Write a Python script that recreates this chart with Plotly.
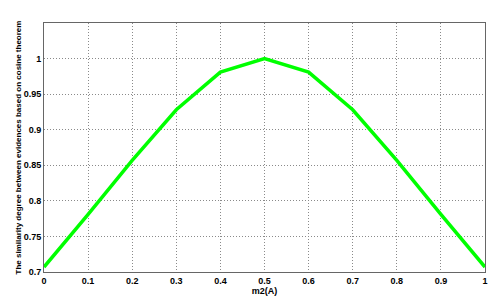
import plotly.graph_objects as go

x_vals = [0, 0.1, 0.2, 0.3, 0.4, 0.5, 0.6, 0.7, 0.8, 0.9, 1.0]
similarity = [0.707, 0.781, 0.857, 0.928, 0.981, 1.0, 0.981, 0.928, 0.857, 0.781, 0.707]
x_ticks = [0, 0.1, 0.2, 0.3, 0.4, 0.5, 0.6, 0.7, 0.8, 0.9, 1]
x_tick_labels = ["0", "0.1", "0.2", "0.3", "0.4", "0.5", "0.6", "0.7", "0.8", "0.9", "1"]
y_ticks = [0.7, 0.75, 0.8, 0.85, 0.9, 0.95, 1.0]
y_tick_labels = ["0.7", "0.75", "0.8", "0.85", "0.9", "0.95", "1"]

fig = go.Figure()
fig.add_trace(go.Scatter(x=x_vals, y=similarity, mode="lines",
                         line=dict(color="#00FF00", width=3.5), showlegend=False))

fam = "Liberation Sans, Arial, sans-serif"
axis_common = dict(showline=True, mirror=True, linecolor="#666666", linewidth=1,
                   showgrid=True, gridcolor="#8a8a8a", griddash="1px,2px", gridwidth=1,
                   zeroline=False, ticks="", automargin=False,
                   tickfont=dict(family=fam, size=9, color="#000"))

fig.update_layout(
    width=504, height=300,
    margin=dict(l=44, r=19, t=23, b=28),
    paper_bgcolor="white", plot_bgcolor="white",
    font=dict(family=fam, size=9, color="#000000"),
    xaxis=dict(range=[0, 1], tickvals=x_ticks, ticktext=["<b>%s</b>" % t for t in x_tick_labels],
               title=dict(text="<b>m2(A)</b>", font=dict(size=9), standoff=0), **axis_common),
    yaxis=dict(range=[0.7, 1.05], tickvals=y_ticks, ticktext=["<b>%s</b>" % t for t in y_tick_labels],
               title=dict(text="<b>The similarity degree between evidences based on cosine theorem</b>",
                          font=dict(size=8), standoff=0), **axis_common),
)

fig.write_html("out.html", config={"displayModeBar": False},
               post_script="document.body.style.margin='0';document.body.style.overflow='hidden';")
